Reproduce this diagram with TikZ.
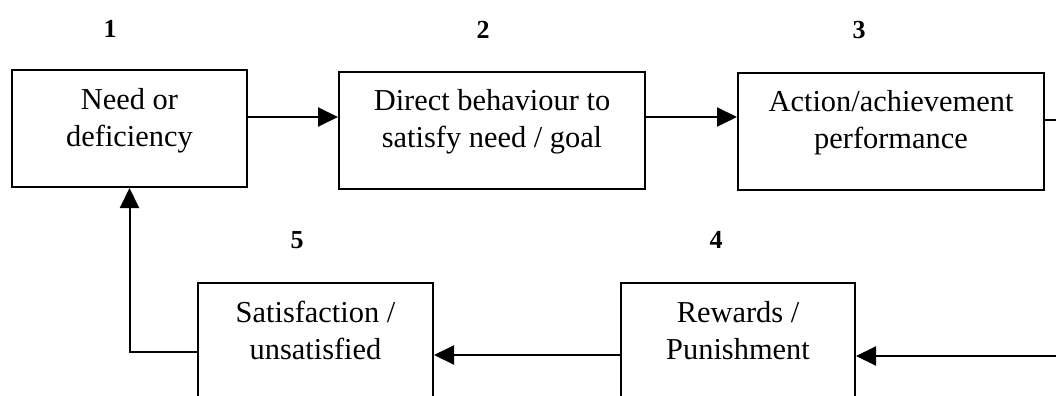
\documentclass[tikz,border=0pt]{standalone}
\usepackage{fontspec}
\setmainfont{Liberation Serif}
\usetikzlibrary{arrows.meta}
\begin{document}
\begin{tikzpicture}[x=0.5pt,y=-0.5pt,
  stepbox/.style={draw, line width=1pt, minimum height=58.5pt, inner sep=0pt},
  boxtext/.style={font=\fontsize{15.2pt}{18.5pt}\selectfont, align=center, anchor=north, inner sep=0pt},
  numlabel/.style={font=\fontsize{13pt}{16pt}\selectfont\bfseries, inner sep=0pt},
  conn/.style={line width=1pt},
  arr/.style={conn, -{Triangle[length=10pt,width=9.5pt]}}
]
\useasboundingbox (0,0) rectangle (1056,396);
\clip (0,0) rectangle (1056,396);

% top row
\node[stepbox, minimum width=117.5pt] (b1) at (129.5,128.5) {};
\node[stepbox, minimum width=153pt]   (b2) at (492,130) {};
\node[stepbox, minimum width=153pt]   (b3) at (891,131) {};
% bottom row (runs past the lower edge)
\node[stepbox, minimum width=117.5pt] (b5) at (315.5,341) {};
\node[stepbox, minimum width=117pt]   (b4) at (738,341.5) {};

% box texts
\node[boxtext] (t1) at ([yshift=-9.5pt]b1.north) {Need or\\deficiency};
\node[boxtext] (t2) at ([yshift=-9.5pt]b2.north) {Direct behaviour to\\satisfy need / goal};
\node[boxtext] (t3) at ([yshift=-9.5pt]b3.north) {Action/achievement\\performance};
\node[boxtext] (t5) at ([yshift=-9.5pt]b5.north) {Satisfaction /\\unsatisfied};
\node[boxtext] (t4) at ([yshift=-9.5pt]b4.north) {Rewards /\\Punishment};

% step numbers
\node[numlabel] (n1) at (110,29) {1};
\node[numlabel] (n2) at (483,30) {2};
\node[numlabel] (n3) at (859,30) {3};
\node[numlabel] (n4) at (716,240) {4};
\node[numlabel] (n5) at (297,240) {5};

% connectors
\coordinate (turnA) at (1080,120);
\coordinate (turnB) at (1080,356);
\draw[arr] (b1.east |- 0,117) -- (b2.west |- 0,117);
\draw[arr] (b2.east |- 0,117) -- (b3.west |- 0,117);
\draw[arr] (b3.east |- turnA) -- (turnA) -- (turnB) -- (b4.east |- turnB);
\draw[arr] (b4.west |- 0,355) -- (b5.east |- 0,355);
\draw[arr] (b5.west |- 0,352) -| (b1.south);
\end{tikzpicture}
\end{document}
